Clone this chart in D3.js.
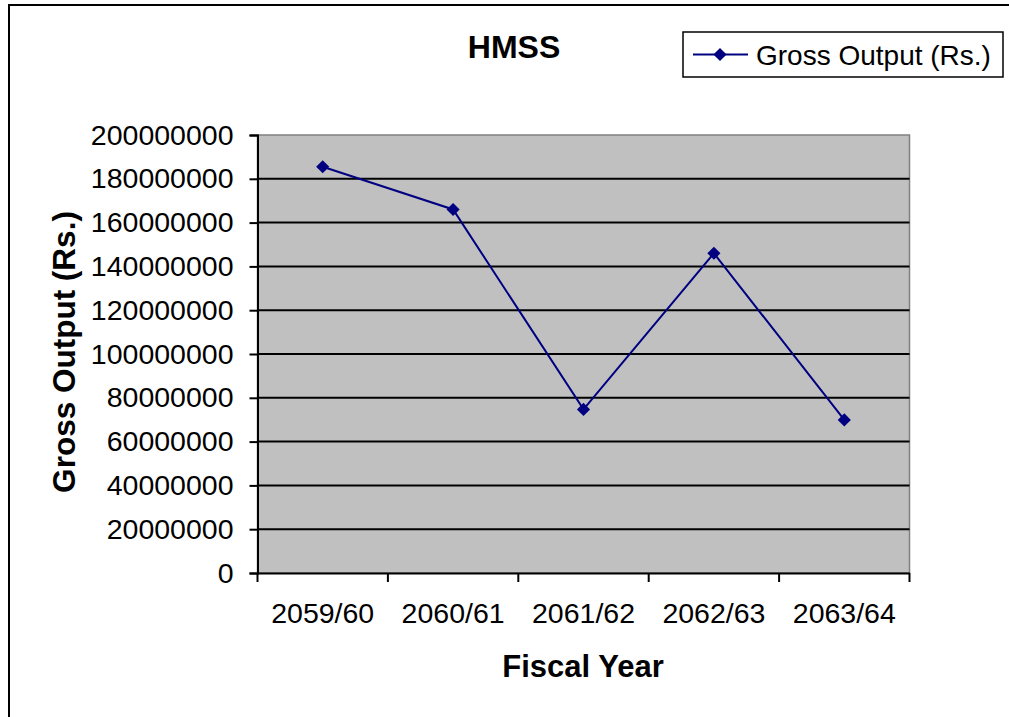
<!DOCTYPE html>
<html>
  <head>
      <title>HMSS Gross Output</title>
      <script src="https://cdn.jsdelivr.net/npm/d3@7"></script>
      <style>
        body { margin: 0; background: #fff; }
        text { font-family: Arial, "Liberation Sans", sans-serif; }
      </style>
  </head>
  <body>
        <div></div>
        <script>
           var years = ["2059/60", "2060/61", "2061/62", "2062/63", "2063/64"]
           var output = [185500000, 166000000, 74700000, 146000000, 69900000]
           var y_ticks = [0, 20000000, 40000000, 60000000, 80000000, 100000000, 120000000, 140000000, 160000000, 180000000, 200000000]

           var W = 1009, H = 717
           var plot_l = 257.5, plot_r = 909.5, plot_t = 135, plot_b = 573

           var svg = d3.select("div").append("svg").attr("width", W).attr("height", H)

           // outer chart border (runs past the right/bottom edges)
           svg.append("rect").attr("x", 9).attr("y", 5).attr("width", 1010).attr("height", 720)
              .attr("fill", "#fff").attr("stroke", "#000").attr("stroke-width", 2)

           var x = d3.scaleBand().domain(years).range([plot_l, plot_r])
           var y = d3.scaleLinear().domain([0, 200000000]).range([plot_b, plot_t])

           // plot area
           svg.append("rect").attr("x", plot_l).attr("y", plot_t).attr("width", plot_r - plot_l).attr("height", plot_b - plot_t)
              .attr("fill", "#c0c0c0").attr("stroke", "#808080").attr("stroke-width", 1.5)

           // gridlines
           svg.append("g").selectAll("line").data(y_ticks.filter(d => d > 0 && d < 200000000)).enter().append("line")
              .attr("x1", plot_l).attr("x2", plot_r).attr("y1", d => y(d)).attr("y2", d => y(d))
              .attr("stroke", "#000").attr("stroke-width", 2)

           // y axis
           var yAxis = svg.append("g").attr("transform", "translate(" + plot_l + ",0)")
              .call(d3.axisLeft(y).tickValues(y_ticks).tickFormat(d3.format("d")).tickSize(8).tickPadding(16))
           yAxis.select(".domain").attr("stroke", "#000").attr("stroke-width", 2)
           yAxis.selectAll(".tick line").attr("stroke", "#000").attr("stroke-width", 2)
           yAxis.selectAll("text").attr("font-size", 28.5).attr("fill", "#000").attr("font-family", "Arial, 'Liberation Sans', sans-serif")

           // x axis
           var xAxis = svg.append("g").attr("transform", "translate(0," + plot_b + ")")
              .call(d3.axisBottom(x).tickSize(0).tickPadding(30))
           xAxis.select(".domain").attr("stroke", "#000").attr("stroke-width", 2)
           xAxis.selectAll("text").attr("font-size", 28.5).attr("fill", "#000").attr("font-family", "Arial, 'Liberation Sans', sans-serif")
           // category boundary ticks
           svg.append("g").selectAll("line").data(years.concat(["end"])).enter().append("line")
              .attr("x1", (d, i) => plot_l + i * x.step()).attr("x2", (d, i) => plot_l + i * x.step())
              .attr("y1", plot_b).attr("y2", plot_b + 9).attr("stroke", "#000").attr("stroke-width", 2)

           // series
           var cx = d => x(d) + x.bandwidth() / 2
           svg.append("path").datum(output)
              .attr("d", d3.line().x((d, i) => cx(years[i])).y(d => y(d)))
              .attr("fill", "none").attr("stroke", "#000080").attr("stroke-width", 2)
           var diamond = d3.symbol().type(d3.symbolDiamond2).size(110)
           svg.append("g").selectAll("path").data(output).enter().append("path")
              .attr("d", diamond)
              .attr("transform", (d, i) => "translate(" + cx(years[i]) + "," + y(d) + ")")
              .attr("fill", "#000080")

           // title
           svg.append("text").attr("x", 514).attr("y", 58).attr("text-anchor", "middle")
              .attr("font-size", 32).attr("font-weight", "bold").text("HMSS")

           // axis titles
           svg.append("text").attr("x", 583).attr("y", 677).attr("text-anchor", "middle")
              .attr("font-size", 31).attr("font-weight", "bold").text("Fiscal Year")
           svg.append("text").attr("transform", "translate(75,352) rotate(-90)").attr("text-anchor", "middle")
              .attr("font-size", 31.5).attr("font-weight", "bold").text("Gross Output (Rs.)")

           // legend
           var lg = svg.append("g")
           lg.append("rect").attr("x", 683).attr("y", 32).attr("width", 320).attr("height", 45)
              .attr("fill", "#fff").attr("stroke", "#000").attr("stroke-width", 1.5)
           lg.append("line").attr("x1", 693).attr("x2", 748).attr("y1", 54.5).attr("y2", 54.5)
              .attr("stroke", "#000080").attr("stroke-width", 2)
           lg.append("path").attr("d", diamond).attr("transform", "translate(720,54.5)").attr("fill", "#000080")
           lg.append("text").attr("x", 756).attr("y", 65).attr("font-size", 28).text("Gross Output (Rs.)")
        </script>
  </body>
</html>
